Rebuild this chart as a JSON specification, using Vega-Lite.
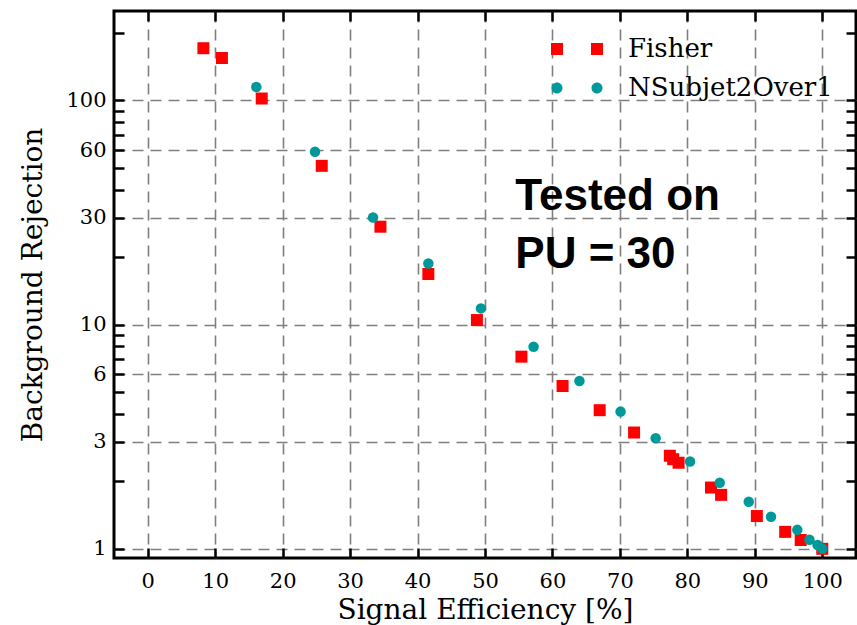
{
  "$schema": "https://vega.github.io/schema/vega-lite/v6.json",
  "width": 742,
  "height": 547,
  "autosize": {"type": "none"},
  "padding": {"left": 114, "top": 11, "right": 1, "bottom": 67},
  "background": "white",
  "config": {
    "view": {"stroke": "black", "strokeWidth": 3},
    "axis": {"zindex": 1}
  },
  "datasets": {
    "points": [
      {"method": "Fisher", "eff": 8.25, "rej": 170.6},
      {"method": "Fisher", "eff": 11.0, "rej": 154.3},
      {"method": "Fisher", "eff": 16.9, "rej": 101.8},
      {"method": "Fisher", "eff": 25.8, "rej": 51.0},
      {"method": "Fisher", "eff": 34.5, "rej": 27.3},
      {"method": "Fisher", "eff": 41.6, "rej": 16.8},
      {"method": "Fisher", "eff": 48.8, "rej": 10.47},
      {"method": "Fisher", "eff": 55.4, "rej": 7.19},
      {"method": "Fisher", "eff": 61.5, "rej": 5.32},
      {"method": "Fisher", "eff": 67.0, "rej": 4.15},
      {"method": "Fisher", "eff": 72.1, "rej": 3.30},
      {"method": "Fisher", "eff": 77.4, "rej": 2.60},
      {"method": "Fisher", "eff": 77.9, "rej": 2.51},
      {"method": "Fisher", "eff": 78.7, "rej": 2.42},
      {"method": "Fisher", "eff": 83.5, "rej": 1.876},
      {"method": "Fisher", "eff": 85.0, "rej": 1.74},
      {"method": "Fisher", "eff": 90.3, "rej": 1.40},
      {"method": "Fisher", "eff": 94.5, "rej": 1.19},
      {"method": "Fisher", "eff": 96.8, "rej": 1.095},
      {"method": "Fisher", "eff": 100.0, "rej": 1.0},
      {"method": "NSubjet2Over1", "eff": 16.1, "rej": 114.6},
      {"method": "NSubjet2Over1", "eff": 24.8, "rej": 58.9},
      {"method": "NSubjet2Over1", "eff": 33.4, "rej": 30.0},
      {"method": "NSubjet2Over1", "eff": 41.6, "rej": 18.7},
      {"method": "NSubjet2Over1", "eff": 49.4, "rej": 11.8},
      {"method": "NSubjet2Over1", "eff": 57.2, "rej": 7.96},
      {"method": "NSubjet2Over1", "eff": 64.0, "rej": 5.60},
      {"method": "NSubjet2Over1", "eff": 70.1, "rej": 4.09},
      {"method": "NSubjet2Over1", "eff": 75.3, "rej": 3.11},
      {"method": "NSubjet2Over1", "eff": 80.4, "rej": 2.45},
      {"method": "NSubjet2Over1", "eff": 84.8, "rej": 1.97},
      {"method": "NSubjet2Over1", "eff": 89.1, "rej": 1.62},
      {"method": "NSubjet2Over1", "eff": 92.4, "rej": 1.39},
      {"method": "NSubjet2Over1", "eff": 96.3, "rej": 1.215},
      {"method": "NSubjet2Over1", "eff": 98.1, "rej": 1.097},
      {"method": "NSubjet2Over1", "eff": 99.3, "rej": 1.04},
      {"method": "NSubjet2Over1", "eff": 100.0, "rej": 1.0}
    ],
    "notes": [
      {"x": 54.5, "y": 32.5, "text": "Tested on"},
      {"x": 54.5, "y": 17.9, "text": "PU = 30"}
    ]
  },
  "layer": [
    {
      "data": {"name": "points"},
      "mark": {"type": "point", "filled": true, "opacity": 1, "strokeWidth": 0},
      "encoding": {
        "x": {
          "field": "eff", "type": "quantitative",
          "scale": {"domain": [-5, 105], "nice": false, "zero": false},
          "axis": {
            "orient": "bottom",
            "values": [0, 10, 20, 30, 40, 50, 60, 70, 80, 90, 100],
            "tickSize": -10, "tickWidth": 2.5, "tickColor": "black",
            "labelPadding": 22, "labelFont": "DejaVu Serif", "labelFontSize": 21, "labelColor": "black",
            "grid": true, "gridColor": "#7f7f7f", "gridDash": [11, 7], "gridWidth": 1.6,
            "domain": false,
            "title": "Signal Efficiency [%]", "titleFont": "DejaVu Serif", "titleFontSize": 28,
            "titleFontWeight": "normal", "titleColor": "black", "titlePadding": 5
          }
        },
        "y": {
          "field": "rej", "type": "quantitative",
          "scale": {"type": "log", "domain": [0.91, 250], "nice": false},
          "axis": {
            "orient": "left",
            "values": [1, 2, 3, 4, 5, 6, 7, 8, 9, 10, 20, 30, 40, 50, 60, 70, 80, 90, 100, 200],
            "format": "d",
            "labelExpr": "indexof([1,3,6,10,30,60,100], datum.value) >= 0 ? datum.label : ''",
            "tickSize": -10, "tickWidth": 2.5, "tickColor": "black",
            "labelPadding": 18, "labelFont": "DejaVu Serif", "labelFontSize": 21, "labelColor": "black",
            "grid": true, "gridColor": "#7f7f7f", "gridDash": [11, 7], "gridWidth": 1.6,
            "gridOpacity": {"condition": {"test": "indexof([1,3,6,10,30,60,100], datum.value) >= 0", "value": 1}, "value": 0},
            "domain": false,
            "title": "Background Rejection", "titleFont": "DejaVu Serif", "titleFontSize": 28,
            "titleFontWeight": "normal", "titleColor": "black", "titlePadding": 18
          }
        },
        "color": {
          "field": "method", "type": "nominal",
          "scale": {"domain": ["Fisher", "NSubjet2Over1"], "range": ["#ff0000", "#009999"]},
          "legend": {
            "title": null,
            "orient": "none", "legendX": 443, "legendY": 18,
            "padding": 0, "rowPadding": 6,
            "labelFont": "DejaVu Serif", "labelFontSize": 26, "labelColor": "black",
            "labelOffset": 31, "labelLimit": 0,
            "symbolSize": 1600, "symbolStrokeWidth": 0,
            "symbolType": {"expr": "datum.value === 'Fisher' ? 'M-1.3,-0.3H-0.7V0.3H-1.3Z M0.7,-0.3H1.3V0.3H0.7Z' : 'M-1.275,0A0.275,0.275 0 1,1 -0.725,0A0.275,0.275 0 1,1 -1.275,0Z M0.725,0A0.275,0.275 0 1,1 1.275,0A0.275,0.275 0 1,1 0.725,0Z'"}
          }
        },
        "shape": {
          "condition": {"test": "datum.method === 'Fisher'", "value": "square"},
          "value": "circle"
        },
        "size": {
          "condition": {"test": "datum.method === 'Fisher'", "value": 144},
          "value": 110
        }
      }
    },
    {
      "data": {"name": "notes"},
      "mark": {"type": "text", "font": "Liberation Sans", "fontWeight": "bold", "fontSize": 44, "align": "left", "baseline": "alphabetic", "color": "black"},
      "encoding": {
        "x": {
          "field": "x", "type": "quantitative",
          "scale": {"domain": [-5, 105], "nice": false, "zero": false},
          "axis": {
            "orient": "top",
            "values": [0, 10, 20, 30, 40, 50, 60, 70, 80, 90, 100],
            "tickSize": -10, "tickWidth": 2.5, "tickColor": "black",
            "labels": false, "grid": false, "domain": false, "title": null
          }
        },
        "y": {
          "field": "y", "type": "quantitative",
          "scale": {"type": "log", "domain": [0.91, 250], "nice": false},
          "axis": {
            "orient": "right",
            "values": [1, 2, 3, 4, 5, 6, 7, 8, 9, 10, 20, 30, 40, 50, 60, 70, 80, 90, 100, 200],
            "tickSize": -10, "tickWidth": 2.5, "tickColor": "black",
            "labels": false, "grid": false, "domain": false, "title": null
          }
        },
        "text": {"field": "text"}
      }
    }
  ],
  "resolve": {"axis": {"x": "independent", "y": "independent"}}
}
